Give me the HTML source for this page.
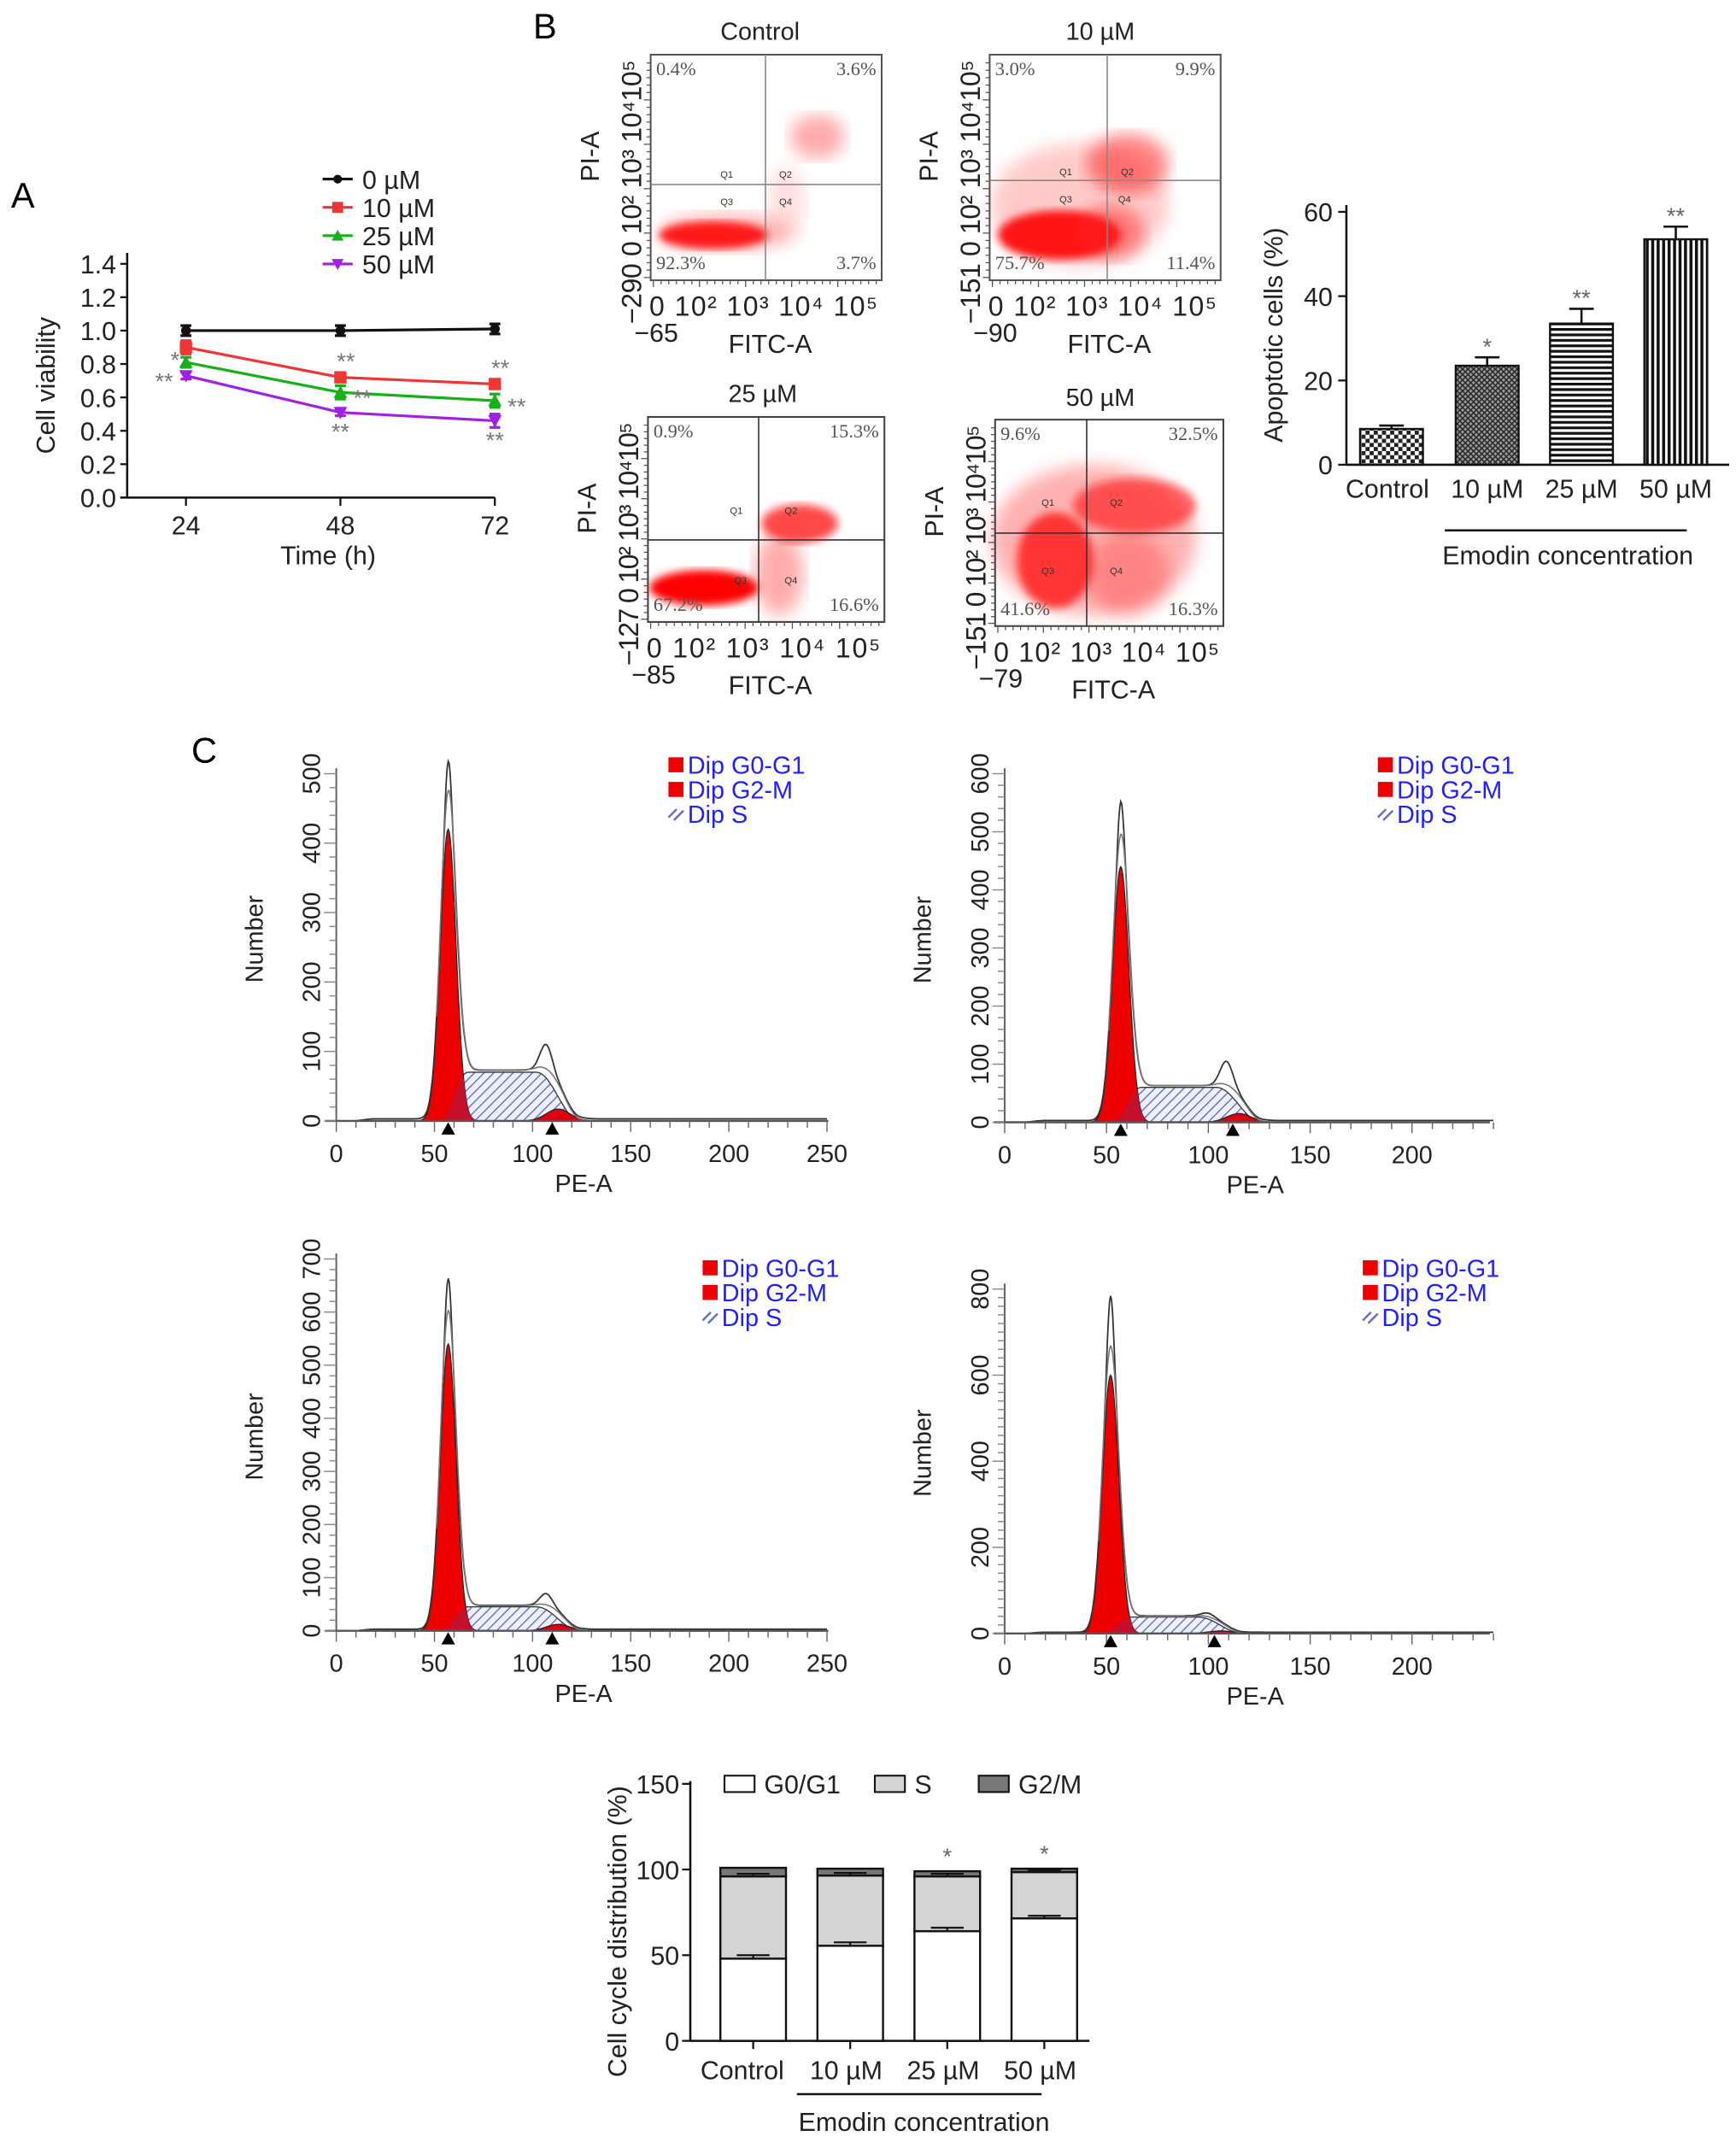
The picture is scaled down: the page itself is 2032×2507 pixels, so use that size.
<!DOCTYPE html>
<html><head><meta charset="utf-8"><style>
html,body{margin:0;padding:0;background:#fff;}
svg{display:block;font-family:"Liberation Sans",sans-serif;}
</style></head><body>
<svg id="fig" width="2032" height="2507" viewBox="0 0 1270 1567" xmlns="http://www.w3.org/2000/svg">
<defs>
<pattern id="hatchS" patternUnits="userSpaceOnUse" width="5" height="5" patternTransform="rotate(45)"><rect width="5" height="5" fill="#eef0fb"/><line x1="0" y1="0" x2="0" y2="5" stroke="#5560c8" stroke-width="1.6"/></pattern>
<pattern id="checker" patternUnits="userSpaceOnUse" width="6" height="6"><rect width="6" height="6" fill="#fff"/><rect width="3" height="3" fill="#222"/><rect x="3" y="3" width="3" height="3" fill="#222"/></pattern>
<pattern id="cross" patternUnits="userSpaceOnUse" width="4" height="4"><rect width="4" height="4" fill="#999"/><path d="M0 0L4 4M4 0L0 4" stroke="#222" stroke-width="0.9"/></pattern>
<pattern id="hstripe" patternUnits="userSpaceOnUse" width="4" height="4"><rect width="4" height="4" fill="#fff"/><rect width="4" height="2" fill="#111"/></pattern>
<pattern id="vstripe" patternUnits="userSpaceOnUse" width="4" height="4"><rect width="4" height="4" fill="#fff"/><rect width="2.2" height="4" fill="#111"/></pattern>
<filter id="blur3"><feGaussianBlur stdDeviation="3"/></filter>
<filter id="blur6"><feGaussianBlur stdDeviation="6"/></filter>
</defs>

<text x="8" y="152" font-size="26">A</text>
<text x="390" y="28" font-size="26">B</text>
<text x="140" y="558" font-size="26">C</text>

<g id="panelA"></g>

<g id="flow">
 <g>
  <g opacity="0.9">
   <ellipse cx="530" cy="170" rx="48" ry="14" fill="#ff2020" opacity="0.35" filter="url(#blur6)"/>
   <ellipse cx="522" cy="172" rx="40" ry="10" fill="#ff0000" filter="url(#blur3)"/>
   <ellipse cx="598" cy="100" rx="20" ry="16" fill="#ff3030" opacity="0.45" filter="url(#blur6)"/>
   <ellipse cx="575" cy="150" rx="14" ry="28" fill="#ff5050" opacity="0.2" filter="url(#blur6)"/>
  </g>
  <rect x="476" y="40" width="169" height="165" fill="none" stroke="#555" stroke-width="1.3"/>
  <line x1="560" y1="40" x2="560" y2="205" stroke="#888" stroke-width="1"/>
  <line x1="476" y1="135" x2="645" y2="135" stroke="#888" stroke-width="1"/>
  <g font-size="7" fill="#333"><text x="527" y="130">Q1</text><text x="570" y="130">Q2</text><text x="527" y="150">Q3</text><text x="570" y="150">Q4</text></g>
 </g>
 <g>
  <g>
   <ellipse cx="790" cy="150" rx="65" ry="45" fill="#ff3030" opacity="0.25" filter="url(#blur6)"/>
   <ellipse cx="775" cy="172" rx="45" ry="18" fill="#ff0000" opacity="0.9" filter="url(#blur3)"/>
   <ellipse cx="825" cy="120" rx="30" ry="22" fill="#ff2020" opacity="0.55" filter="url(#blur6)"/>
   <ellipse cx="812" cy="170" rx="25" ry="20" fill="#ff2020" opacity="0.5" filter="url(#blur6)"/>
  </g>
  <rect x="724" y="40" width="169" height="165" fill="none" stroke="#555" stroke-width="1.3"/>
  <line x1="810" y1="40" x2="810" y2="205" stroke="#888" stroke-width="1"/>
  <line x1="724" y1="132" x2="893" y2="132" stroke="#888" stroke-width="1"/>
  <g font-size="7" fill="#333"><text x="775" y="128">Q1</text><text x="820" y="128">Q2</text><text x="775" y="148">Q3</text><text x="818" y="148">Q4</text></g>
 </g>
 <g>
  <g>
   <ellipse cx="515" cy="430" rx="40" ry="13" fill="#ff0000" filter="url(#blur3)"/>
   <ellipse cx="585" cy="383" rx="28" ry="14" fill="#ff1010" opacity="0.75" filter="url(#blur3)"/>
   <ellipse cx="570" cy="420" rx="18" ry="30" fill="#ff3030" opacity="0.4" filter="url(#blur6)"/>
  </g>
  <rect x="474" y="305" width="173" height="150" fill="none" stroke="#444" stroke-width="1.3"/>
  <line x1="555" y1="305" x2="555" y2="455" stroke="#333" stroke-width="1"/>
  <line x1="474" y1="395" x2="647" y2="395" stroke="#333" stroke-width="1"/>
  <g font-size="7" fill="#333"><text x="534" y="376">Q1</text><text x="574" y="376">Q2</text><text x="537" y="427">Q3</text><text x="574" y="427">Q4</text></g>
 </g>
 <g>
  <g>
   <ellipse cx="800" cy="395" rx="75" ry="55" fill="#ff2020" opacity="0.35" filter="url(#blur6)"/>
   <ellipse cx="772" cy="410" rx="28" ry="35" fill="#ff0000" opacity="0.7" filter="url(#blur3)"/>
   <ellipse cx="830" cy="370" rx="45" ry="20" fill="#ff1010" opacity="0.6" filter="url(#blur3)"/>
   <ellipse cx="825" cy="420" rx="30" ry="30" fill="#ff3030" opacity="0.35" filter="url(#blur6)"/>
  </g>
  <rect x="728" y="307" width="167" height="151" fill="none" stroke="#444" stroke-width="1.3"/>
  <line x1="795" y1="307" x2="795" y2="458" stroke="#333" stroke-width="1"/>
  <line x1="728" y1="390" x2="895" y2="390" stroke="#333" stroke-width="1"/>
  <g font-size="7" fill="#333"><text x="762" y="370">Q1</text><text x="812" y="370">Q2</text><text x="762" y="420">Q3</text><text x="812" y="420">Q4</text></g>
 </g>
</g>

<g id="apop"></g>
<g id="hists"></g>
<g id="stack"></g>
</svg>

<script>
const timeCats = [24, 48, 72];
const via0 = [1.00, 1.00, 1.01];
const via10 = [0.90, 0.72, 0.68];
const via25 = [0.81, 0.63, 0.58];
const via50 = [0.73, 0.51, 0.46];
const viaErr0 = [0.03, 0.03, 0.03];
const viaErr10 = [0.04, 0.02, 0.02];
const viaErr25 = [0.03, 0.04, 0.04];
const viaErr50 = [0.02, 0.02, 0.04];
const viaTicks = ["0.0","0.2","0.4","0.6","0.8","1.0","1.2","1.4"];
const viaLegend = ["0 µM","10 µM","25 µM","50 µM"];

const flowTitles = ["Control","10 µM","25 µM","50 µM"];
const flowQ1 = ["0.4%","3.0%","0.9%","9.6%"];
const flowQ2 = ["3.6%","9.9%","15.3%","32.5%"];
const flowQ3 = ["92.3%","75.7%","67.2%","41.6%"];
const flowQ4 = ["3.7%","11.4%","16.6%","16.3%"];
const flowYMin = ["−290","−151","−127","−151"];
const flowXMin = ["−65","−90","−85","−79"];
const apoCats = ["Control","10 µM","25 µM","50 µM"];
const apoVals = [8.5, 23.5, 33.5, 53.5];
const apoErr = [0.8, 2.0, 3.5, 3.0];
const apoStars = ["", "*", "**", "**"];
const apoTicks = [0, 20, 40, 60];

const histG1Mean = [57, 57, 57, 52];
const histG1Peak = [420, 440, 540, 600];
const histTotalPeak = [485, 520, 630, 750];
const histSLevel = [70, 60, 45, 38];
const histG2Mean = [110, 112, 110, 103];
const histG2Peak = [17, 15, 12, 6];
const histG2Bump = [105, 100, 65, 45];
const histXMax = [250, 240, 250, 240];
const histYMax = [500, 600, 700, 800];
const histXTicks = [0, 50, 100, 150, 200, 250];

const ccCats = ["Control","10 µM","25 µM","50 µM"];
const ccG1 = [48, 55.5, 64, 71.5];
const ccS = [48, 41, 32, 27];
const ccG2 = [5, 4, 3, 2];
const ccG1Err = [2, 2, 2, 1.5];
const ccSErr = [1.5, 1.5, 1.5, 1];
const ccStars = ["", "", "*", "*"];
const ccTicks = [0, 50, 100, 150];

const NS = "http://www.w3.org/2000/svg";
function mk(parent, tag, attrs, text) {
  const e = document.createElementNS(NS, tag);
  for (const k in attrs) e.setAttribute(k, attrs[k]);
  if (text !== undefined) e.textContent = text;
  parent.appendChild(e);
  return e;
}

(function () {
  const g = document.getElementById('panelA');
  const xA = t => 136 + (t - 24) / 24 * 113;
  const yA = v => 364 - v / 1.4 * 171;
  let e = mk(g, 'line', {x1: 93, y1: 185, x2: 93, y2: 364, stroke: '#111', 'stroke-width': 1.6});
   
  e = mk(g, 'line', {x1: 88, y1: 364, x2: 362, y2: 364, stroke: '#111', 'stroke-width': 1.6});
   
  viaTicks.forEach(t => {
    const y = yA(parseFloat(t));
    mk(g, 'line', {x1: 88, y1: y, x2: 93, y2: y, stroke: '#111', 'stroke-width': 1.4});
    const tx = mk(g, 'text', {x: 85, y: y + 7, 'font-size': 19, 'text-anchor': 'end', fill: '#222'}, t);
     
  });
  timeCats.forEach(t => {
    const x = xA(t);
    mk(g, 'line', {x1: x, y1: 364, x2: x, y2: 370, stroke: '#111', 'stroke-width': 1.4});
    const tx = mk(g, 'text', {x: x, y: 391, 'font-size': 19, 'text-anchor': 'middle', fill: '#222'}, String(t));
     
  });
  e = mk(g, 'text', {x: 240, y: 413, 'font-size': 19, 'text-anchor': 'middle', fill: '#222'}, 'Time (h)');
   
  e = mk(g, 'text', {x: 0, y: 0, 'font-size': 19, 'text-anchor': 'middle', fill: '#222', transform: 'translate(40,282) rotate(-90)'}, 'Cell viability');
   

  const series = [via0, via10, via25, via50];
  const errs = [viaErr0, viaErr10, viaErr25, viaErr50];
  const colors = ['#111', '#f03535', '#18b018', '#a020e8'];
  function marker(par, i, x, y, s) {
    let m;
    if (i === 0) m = mk(par, 'circle', {cx: x, cy: y, r: s * 0.8, fill: colors[i]});
    else if (i === 1) m = mk(par, 'rect', {x: x - s, y: y - s, width: 2 * s, height: 2 * s, fill: colors[i]});
    else if (i === 2) m = mk(par, 'polygon', {points: `${x},${y - s * 1.1} ${x - s * 1.1},${y + s * 0.9} ${x + s * 1.1},${y + s * 0.9}`, fill: colors[i]});
    else m = mk(par, 'polygon', {points: `${x},${y + s * 1.1} ${x - s * 1.1},${y - s * 0.9} ${x + s * 1.1},${y - s * 0.9}`, fill: colors[i]});
    return m;
  }
  series.forEach((arr, i) => {
    const sg = mk(g, 'g', {});
    
    
    const pts = arr.map((v, j) => xA(timeCats[j]) + ',' + yA(v)).join(' ');
    const pl = mk(sg, 'polyline', {points: pts, fill: 'none', stroke: colors[i], 'stroke-width': 2});
     
    arr.forEach((v, j) => {
      const x = xA(timeCats[j]);
      mk(sg, 'line', {x1: x, y1: yA(v + errs[i][j]), x2: x, y2: yA(v - errs[i][j]), stroke: colors[i], 'stroke-width': 2});
      mk(sg, 'line', {x1: x - 4, y1: yA(v + errs[i][j]), x2: x + 4, y2: yA(v + errs[i][j]), stroke: colors[i], 'stroke-width': 2});
      mk(sg, 'line', {x1: x - 4, y1: yA(v - errs[i][j]), x2: x + 4, y2: yA(v - errs[i][j]), stroke: colors[i], 'stroke-width': 2});
      const m = marker(sg, i, x, yA(v), 4.5);
       
    });
  });
  const starG = mk(g, 'g', {'font-size': 17, fill: '#777', 'text-anchor': 'middle'});
   
  mk(starG, 'text', {x: xA(24) - 8, y: yA(via25[0]) + 4}, '*');
  mk(starG, 'text', {x: xA(24) - 16, y: yA(via50[0]) + 10}, '**');
  [1, 2].forEach(j => {
    const x = xA(timeCats[j]);
    mk(starG, 'text', {x: x + 4, y: yA(via10[j]) - 6}, '**');
    mk(starG, 'text', {x: x + 16, y: yA(via25[j]) + 10}, '**');
    mk(starG, 'text', {x: x, y: yA(via50[j]) + 20}, '**');
  });
  viaLegend.forEach((lab, i) => {
    const y = 131 + i * 20.7;
    const lg = mk(g, 'g', {});
     
    mk(lg, 'line', {x1: 236, y1: y, x2: 258, y2: y, stroke: colors[i], 'stroke-width': 2});
    marker(lg, i, 247, y, 4);
    mk(lg, 'text', {x: 265, y: y + 7, 'font-size': 19, fill: '#222'}, lab);
  });
})();

(function () {
  const g = document.getElementById('flow');
  const boxes = [[476, 40, 645, 205, 556, 22], [724, 40, 893, 205, 805, 22], [474, 305, 647, 455, 558, 287], [728, 307, 895, 458, 805, 290]];
  boxes.forEach((b, i) => {
    const [x0, y0, x1, y1, tx, ty] = b;
    let e = mk(g, 'text', {x: tx, y: ty + 7, 'font-size': 18, 'text-anchor': 'middle', fill: '#222'}, flowTitles[i]);
     
    const pg = mk(g, 'g', {'font-family': '"Liberation Serif",serif', 'font-size': 14, fill: '#555'});
     
    mk(pg, 'text', {x: x0 + 4, y: y0 + 15}, flowQ1[i]);
    mk(pg, 'text', {x: x1 - 4, y: y0 + 15, 'text-anchor': 'end'}, flowQ2[i]);
    mk(pg, 'text', {x: x0 + 4, y: y1 - 8}, flowQ3[i]);
    mk(pg, 'text', {x: x1 - 4, y: y1 - 8, 'text-anchor': 'end'}, flowQ4[i]);
    for (let k = 0; k < 30; k++) {
      const xx = x0 + 2 + k * (x1 - x0 - 6) / 29;
      mk(g, 'line', {x1: xx, y1: y1, x2: xx, y2: y1 + (k % 6 === 0 ? 5 : 3), stroke: '#555', 'stroke-width': 0.8});
      const yy = y1 - 2 - k * (y1 - y0 - 8) / 29;
      mk(g, 'line', {x1: x0, y1: yy, x2: x0 - (k % 6 === 0 ? 5 : 3), y2: yy, stroke: '#555', 'stroke-width': 0.8});
    }
    const h = y1 - y0;
    e = mk(g, 'text', {x: 0, y: 0, 'font-size': 20, fill: '#222', transform: `translate(${x0 - 7},${y1 + 32}) rotate(-90)`}, `${flowYMin[i]} 0 10² 10³ 10⁴10⁵`);
    e.setAttribute('textLength', h + 28); e.setAttribute('lengthAdjust', 'spacing');
     
    e = mk(g, 'text', {x: 0, y: 0, 'font-size': 19, 'text-anchor': 'middle', fill: '#222', transform: `translate(${x0 - 38},${(y0 + y1) / 2 - 8}) rotate(-90)`}, 'PI-A');
     
    e = mk(g, 'text', {x: x0 - 1, y: y1 + 26, 'font-size': 20, fill: '#222'}, '0 10² 10³ 10⁴ 10⁵');
    e.setAttribute('textLength', x1 - x0 - 2); e.setAttribute('lengthAdjust', 'spacing');
     
    e = mk(g, 'text', {x: x0 - 12, y: y1 + 45, 'font-size': 19, fill: '#222'}, flowXMin[i]);
     
    e = mk(g, 'text', {x: (x0 + x1) / 2 + 3, y: y1 + 53, 'font-size': 19, 'text-anchor': 'middle', fill: '#222'}, 'FITC-A');
     
  });
})();

(function () {
  const g = document.getElementById('apop');
  const yB = v => 340 - v * 185 / 60;
  const centers = [1018, 1088, 1157, 1226];
  const fills = ['url(#checker)', 'url(#cross)', 'url(#hstripe)', 'url(#vstripe)'];
  let e = mk(g, 'line', {x1: 985, y1: 150, x2: 985, y2: 340, stroke: '#111', 'stroke-width': 1.6});
   
  e = mk(g, 'line', {x1: 985, y1: 340, x2: 1265, y2: 340, stroke: '#111', 'stroke-width': 1.6});
   
  apoTicks.forEach(t => {
    mk(g, 'line', {x1: 979, y1: yB(t), x2: 985, y2: yB(t), stroke: '#111', 'stroke-width': 1.4});
    const tx = mk(g, 'text', {x: 975, y: yB(t) + 7, 'font-size': 19, 'text-anchor': 'end', fill: '#222'}, String(t));
     
  });
  e = mk(g, 'text', {x: 0, y: 0, 'font-size': 19, 'text-anchor': 'middle', fill: '#222', transform: 'translate(938,245) rotate(-90)'}, 'Apoptotic cells (%)');
   
  apoVals.forEach((v, i) => {
    const c = centers[i];
    const b = mk(g, 'rect', {x: c - 23, y: yB(v), width: 46, height: 340 - yB(v), fill: fills[i], stroke: '#111', 'stroke-width': 1.5});
     
    mk(g, 'line', {x1: c, y1: yB(v), x2: c, y2: yB(v + apoErr[i]), stroke: '#111', 'stroke-width': 1.6});
    mk(g, 'line', {x1: c - 9, y1: yB(v + apoErr[i]), x2: c + 9, y2: yB(v + apoErr[i]), stroke: '#111', 'stroke-width': 1.6});
    if (apoStars[i]) {
      const s = mk(g, 'text', {x: c, y: yB(v + apoErr[i]) - 2, 'font-size': 17, 'text-anchor': 'middle', fill: '#666'}, apoStars[i]);
       
    }
    const tx = mk(g, 'text', {x: c - (i === 0 ? 3 : 0), y: 364, 'font-size': 19, 'text-anchor': 'middle', fill: '#222'}, apoCats[i]);
     
  });
  e = mk(g, 'line', {x1: 1057, y1: 388, x2: 1234, y2: 388, stroke: '#111', 'stroke-width': 1.6});
   
  e = mk(g, 'text', {x: 1147, y: 413, 'font-size': 19, 'text-anchor': 'middle', fill: '#222'}, 'Emodin concentration');
   
})();

(function () {
  const root = document.getElementById('hists');
  const geo = [
    {ox: 246, oy: 820, kx: 1.436, top: 566, xEnd: 606, lx: 489, ly: 560},
    {ox: 735, oy: 821, kx: 1.49, top: 566, xEnd: 1090, lx: 1008, ly: 560},
    {ox: 246, oy: 1193, kx: 1.436, top: 921, xEnd: 606, lx: 514, ly: 928},
    {ox: 735, oy: 1195, kx: 1.49, top: 943, xEnd: 1090, lx: 997, ly: 928}
  ];
  const gauss = (x, m, s) => Math.exp(-((x - m) * (x - m)) / (2 * s * s));
  const smooth = (x, a, b) => x <= a ? 0 : x >= b ? 1 : 0.5 - 0.5 * Math.cos(Math.PI * (x - a) / (b - a));
  geo.forEach((G, i) => {
    const g = mk(root, 'g', {});
    
    
    const ky = (G.oy - G.top) / histYMax[i];
    const X = v => G.ox + v * G.kx;
    const Y = c => G.oy - c * ky;
    const m1 = histG1Mean[i], m2 = histG2Mean[i];
    const g1 = x => histG1Peak[i] * gauss(x, m1, 4);
    const sC = x => histSLevel[i] * smooth(x, m1 - 4, m1 + 10) * (1 - smooth(x, m2 - 8, m2 + 14));
    const g2 = x => histG2Peak[i] * gauss(x, m2 + 3, 6);
    const tot = x => (histTotalPeak[i] - histG1Peak[i]) * gauss(x, m1, 1.6) + g1(x) * 1.04 + sC(x) + g2(x) + (histG2Bump[i] - histSLevel[i]) * gauss(x, m2 - 3, 3) + 3 * smooth(x, 8, 20);
    const xmax = histXMax[i];
    function area(fn, a, b) {
      let d = `M${X(a)},${G.oy}`;
      for (let x = a; x <= b; x += 0.5) d += ` L${X(x).toFixed(1)},${Y(fn(x)).toFixed(1)}`;
      return d + ` L${X(b)},${G.oy} Z`;
    }
    let e = mk(g, 'path', {d: area(sC, m1 - 6, m2 + 20), fill: 'url(#hatchS)', stroke: '#333', 'stroke-width': 0.8});
     
    e = mk(g, 'path', {d: area(g1, m1 - 14, m1 + 14), fill: '#ee0000', stroke: '#222', 'stroke-width': 0.8});
     
    e = mk(g, 'path', {d: area(x => Math.min(g1(x), sC(x)), m1 - 6, m1 + 14), fill: '#c4102a', stroke: 'none'});
     
    e = mk(g, 'path', {d: area(g2, m2 - 15, m2 + 20), fill: '#e00010', stroke: '#222', 'stroke-width': 0.8});
     
    let d = '';
    for (let x = 8; x <= xmax; x += 0.5) d += (d ? ' L' : 'M') + X(x).toFixed(1) + ',' + Y(tot(x)).toFixed(1);
    e = mk(g, 'path', {d: d, fill: 'none', stroke: '#333', 'stroke-width': 1.1});
     
    d = '';
    for (let x = m1 - 6; x <= m2 + 25; x += 0.5) d += (d ? ' L' : 'M') + X(x).toFixed(1) + ',' + Y(g1(x) * 1.1 + sC(x) * 1.05 + g2(x)).toFixed(1);
    mk(g, 'path', {d: d, fill: 'none', stroke: '#777', 'stroke-width': 1});
    e = mk(g, 'line', {x1: G.ox, y1: G.oy, x2: G.ox, y2: G.top - 4, stroke: '#666', 'stroke-width': 1.3});
     
    e = mk(g, 'line', {x1: G.ox - 8, y1: G.oy, x2: G.xEnd, y2: G.oy, stroke: '#555', 'stroke-width': 1.5});
     
    const step = histYMax[i] >= 800 ? 200 : 100;
    for (let c = 0; c <= histYMax[i]; c += 20) {
      const major = c % step === 0;
      mk(g, 'line', {x1: G.ox - (major ? 9 : 5), y1: Y(c), x2: G.ox, y2: Y(c), stroke: '#888', 'stroke-width': 0.9});
      if (major) {
        const t = mk(g, 'text', {x: 0, y: 0, 'font-size': 18, 'text-anchor': 'middle', fill: '#222', transform: `translate(${G.ox - 12},${Y(c)}) rotate(-90)`}, String(c));
         
      }
    }
    for (let v = 0; v <= xmax; v += 10) {
      const major = v % 50 === 0;
      mk(g, 'line', {x1: X(v), y1: G.oy, x2: X(v), y2: G.oy + (major ? 8 : 5), stroke: '#666', 'stroke-width': 0.9});
    }
    histXTicks.filter(v => v <= xmax).forEach(v => {
      const t = mk(g, 'text', {x: X(v), y: G.oy + 30, 'font-size': 18, 'text-anchor': 'middle', fill: '#222'}, String(v));
       
    });
    [m1, m2].forEach(m => {
      const tr = mk(g, 'polygon', {points: `${X(m)},${G.oy + 1} ${X(m) - 5},${G.oy + 10} ${X(m) + 5},${G.oy + 10}`, fill: '#000'});
       
    });
    e = mk(g, 'text', {x: X(i % 2 ? 123 : 126), y: G.oy + 52, 'font-size': 18, 'text-anchor': 'middle', fill: '#222'}, 'PE-A');
     
    e = mk(g, 'text', {x: 0, y: 0, 'font-size': 18, 'text-anchor': 'middle', fill: '#222', transform: `translate(${G.ox - 54},${(G.oy + G.top) / 2 - 6}) rotate(-90)`}, 'Number');
     
    const lg = mk(g, 'g', {'font-size': 18, fill: '#2020ff'});
     
    mk(lg, 'rect', {x: G.lx, y: G.ly - 6, width: 11, height: 11, fill: '#ee0000'});
    mk(lg, 'text', {x: G.lx + 14, y: G.ly + 6}, 'Dip G0-G1');
    mk(lg, 'rect', {x: G.lx, y: G.ly + 12, width: 11, height: 11, fill: '#ee0000'});
    mk(lg, 'text', {x: G.lx + 14, y: G.ly + 24}, 'Dip G2-M');
    mk(lg, 'path', {d: `M${G.lx} ${G.ly + 38}l6 -6M${G.lx + 4} ${G.ly + 40}l7 -7`, stroke: '#6670d0', 'stroke-width': 1.6});
    mk(lg, 'text', {x: G.lx + 14, y: G.ly + 42}, 'Dip S');
  });
})();

(function () {
  const g = document.getElementById('stack');
  const yC = v => 1493 - v * 188 / 150;
  const centers = [551, 622, 693, 764];
  let e = mk(g, 'line', {x1: 505, y1: 1303, x2: 505, y2: 1493, stroke: '#111', 'stroke-width': 1.6});
   
  e = mk(g, 'line', {x1: 505, y1: 1493, x2: 797, y2: 1493, stroke: '#111', 'stroke-width': 1.6});
   
  ccTicks.forEach(t => {
    mk(g, 'line', {x1: 499, y1: yC(t), x2: 505, y2: yC(t), stroke: '#111', 'stroke-width': 1.4});
    const tx = mk(g, 'text', {x: 497, y: yC(t) + 7, 'font-size': 19, 'text-anchor': 'end', fill: '#222'}, String(t));
     
  });
  e = mk(g, 'text', {x: 0, y: 0, 'font-size': 19, 'text-anchor': 'middle', fill: '#222', transform: 'translate(464,1410) rotate(-90)'}, 'Cell cycle distribution (%)');
   
  e.setAttribute('x', -3); e.setAttribute('y', -6);
  ccG1.forEach((v, i) => {
    const c = centers[i];
    const s = ccS[i], m = ccG2[i];
    let r = mk(g, 'rect', {x: c - 24, y: yC(v), width: 48, height: yC(0) - yC(v), fill: '#fff', stroke: '#111', 'stroke-width': 1.5});
     
    r = mk(g, 'rect', {x: c - 24, y: yC(v + s), width: 48, height: yC(v) - yC(v + s), fill: '#d4d4d4', stroke: '#111', 'stroke-width': 1.5});
     
    r = mk(g, 'rect', {x: c - 24, y: yC(v + s + m), width: 48, height: yC(v + s) - yC(v + s + m), fill: '#777', stroke: '#111', 'stroke-width': 1.5});
     
    [[v, ccG1Err[i]], [v + s, ccSErr[i]]].forEach(([b, er]) => {
      mk(g, 'line', {x1: c, y1: yC(b), x2: c, y2: yC(b + er), stroke: '#111', 'stroke-width': 1.4});
      mk(g, 'line', {x1: c - 12, y1: yC(b + er), x2: c + 12, y2: yC(b + er), stroke: '#111', 'stroke-width': 1.4});
    });
    mk(g, 'line', {x1: c, y1: 1493, x2: c, y2: 1499, stroke: '#111', 'stroke-width': 1.4});
    if (ccStars[i]) {
      const st = mk(g, 'text', {x: c, y: yC(v + s + m) - 5, 'font-size': 17, 'text-anchor': 'middle', fill: '#666'}, ccStars[i]);
       
    }
    const tx = mk(g, 'text', {x: c - (i === 0 ? 8 : 3), y: 1521, 'font-size': 19, 'text-anchor': 'middle', fill: '#222'}, ccCats[i]);
     
  });
  e = mk(g, 'line', {x1: 583, y1: 1532, x2: 762, y2: 1532, stroke: '#111', 'stroke-width': 1.6});
   
  e = mk(g, 'text', {x: 676, y: 1559, 'font-size': 19, 'text-anchor': 'middle', fill: '#222'}, 'Emodin concentration');
   
  const leg = [['G0/G1', '#fff', 530], ['S', '#d4d4d4', 640], ['G2/M', '#777', 716]];
  leg.forEach(([lab, col, x]) => {
    const lg = mk(g, 'g', {});
     
    mk(lg, 'rect', {x: x, y: 1299, width: 22, height: 12, fill: col, stroke: '#111', 'stroke-width': 1.3});
    mk(lg, 'text', {x: x + 29, y: 1312, 'font-size': 19, fill: '#222'}, lab);
  });
})();
</script>
</body></html>
